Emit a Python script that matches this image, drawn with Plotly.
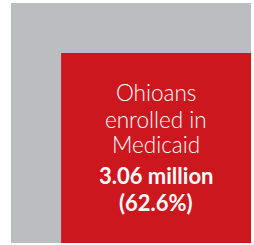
import math
import plotly.graph_objects as go

categories = ["All Ohioans", "Ohioans enrolled in Medicaid"]
values_millions = [3.06 / 0.626, 3.06]
share_pct = [100.0, 62.6]
colors = ["#BCBDC1", "#CC171F"]

total_side = math.sqrt(values_millions[0])
fig = go.Figure()
fig.add_trace(go.Scatter(x=[0, total_side], y=[0, total_side], mode="markers",
                         marker=dict(opacity=0), hoverinfo="skip", showlegend=False))
for v, c in zip(values_millions, colors):
    s = math.sqrt(v)
    fig.add_shape(type="rect", xref="x", yref="y", x0=total_side - s, x1=total_side,
                  y0=0, y1=s, fillcolor=c, line=dict(width=0), layer="below")

s_in = math.sqrt(values_millions[1])
cx, cy = total_side - s_in / 2, s_in / 2
lines = [
    ("Ohioans", 300, 22.5, 55.5),
    ("enrolled in", 300, 22.5, 29),
    ("Medicaid", 300, 22.5, 3.5),
    (f"{values_millions[1]:.2f} million", 700, 22, -27.5),
    (f"({share_pct[1]:.1f}%)", 700, 22, -54),
]
for txt, w, sz, dy in lines:
    fig.add_annotation(
        x=cx, y=cy, xref="x", yref="y", text=txt, showarrow=False,
        font=dict(family="Lato", size=sz, color="white", weight=w),
        xanchor="center", yanchor="middle", yshift=dy)

fig.update_layout(
    width=254, height=245, margin=dict(l=11, r=3, t=3, b=2),
    paper_bgcolor="white", plot_bgcolor="white",
    xaxis=dict(range=[0, total_side], visible=False, fixedrange=True),
    yaxis=dict(range=[0, total_side], visible=False, fixedrange=True),
)
fig.write_html("out.html", config={"displayModeBar": False},
               post_script="document.body.style.margin='0';document.body.style.overflow='hidden';")
